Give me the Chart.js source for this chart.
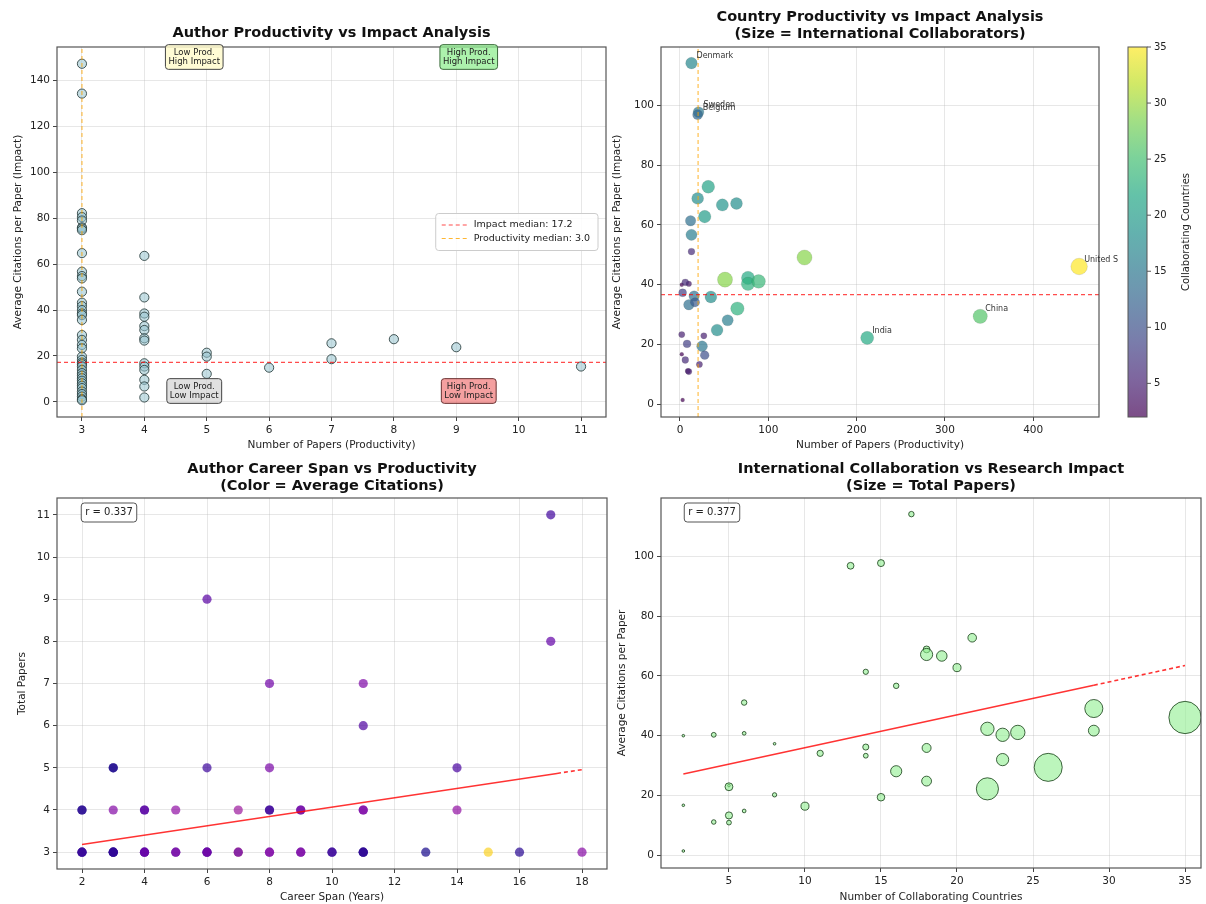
<!DOCTYPE html>
<html>
<head>
<meta charset="utf-8">
<script src="https://cdn.jsdelivr.net/npm/chart.js@4.4.1/dist/chart.umd.min.js"></script>
<style>
  body { margin: 0; background: #fff; width: 1206px; height: 904px; position: relative; overflow: hidden; }
  canvas { position: absolute; }
</style>
</head>
<body>
<canvas id="tl" width="612" height="452" style="left:0;top:0"></canvas>
<canvas id="tr" width="600" height="452" style="left:606px;top:0"></canvas>
<canvas id="bl" width="612" height="452" style="left:0;top:452px"></canvas>
<canvas id="br" width="600" height="452" style="left:606px;top:452px"></canvas>
<script>
// ---------- data ----------

// top left: authors, number of papers vs average citations per paper
const tlPaperGroups = [3, 4, 5, 6, 7, 8, 9, 11];
const tlCitations = [
  [147.3, 134.3, 82.2, 80.5, 79.0, 76.0, 75.5, 74.8, 64.8, 56.7, 54.8, 53.8, 48.0, 43.2, 41.7, 40.0, 38.5,
   37.8, 35.7, 29.1, 27.0, 24.8, 23.3, 19.7, 18.3, 17.1, 16.4, 15.4, 13.9, 12.5, 11.4, 10.3, 9.2, 8.1, 7.0,
   6.0, 4.5, 3.4, 2.3, 1.2, 0.7],
  [63.6, 45.5, 38.5, 37.1, 33.0, 31.3, 27.7, 26.7, 16.8, 15.4, 13.9, 9.6, 6.7, 1.9],
  [21.4, 19.7, 12.2],
  [14.9],
  [25.5, 18.6],
  [27.3],
  [23.8],
  [15.4]
];
const tlImpactMedian = 17.2;
const tlProdMedian = 3.0;
const tlXTicks = [3, 4, 5, 6, 7, 8, 9, 10, 11];
const tlYTicks = [0, 20, 40, 60, 80, 100, 120, 140];

// countries (top right and bottom right)
const countryPapers = [13, 21, 20, 32, 20, 64, 48, 28, 12, 13, 13, 141, 452, 77, 77, 89, 51, 2, 10, 6, 3,
  16, 10, 35, 17, 65, 340, 54, 42, 2, 27, 212, 8, 25, 2, 28, 6, 22, 9, 10, 3];
const countryCitations = [114.2, 97.8, 96.9, 72.8, 68.9, 67.2, 66.7, 62.8, 61.4, 56.7, 51.1, 49.1, 46.1,
  42.3, 40.3, 41.1, 41.7, 40.0, 40.3, 40.8, 37.3, 36.2, 33.3, 35.9, 34.1, 32.0, 29.4, 28.1, 24.8, 23.3,
  22.9, 22.2, 20.2, 19.4, 16.7, 16.4, 14.8, 13.3, 11.1, 10.9, 1.4];
const countryCollabs = [17, 15, 13, 21, 18, 18, 19, 20, 14, 16, 6, 29, 35, 22, 23, 24, 29, 2, 4, 6, 8,
  14, 14, 18, 11, 23, 26, 16, 18, 5, 5, 22, 8, 15, 2, 10, 6, 5, 4, 5, 2];
const labelIndex = [0, 2, 1, 12, 26, 31];
const labelNames = ['Denmark', 'Belgium', 'Sweden', 'United S', 'China', 'India'];
const trPapersMedian = 20.5;
const trCitMedian = 36.7;
const trXTicks = [0, 100, 200, 300, 400];
const trYTicks = [0, 20, 40, 60, 80, 100];
const cbTicks = [5, 10, 15, 20, 25, 30, 35];

// bottom left: career span vs total papers, coloured by average citations
const blSpan = [2, 2, 2, 3, 3, 3, 3, 4, 4, 4, 5, 5, 6, 6, 6, 7, 7, 8, 8, 9, 9, 10, 10, 11, 11, 11, 13, 15, 16, 18,
  2, 2, 3, 4, 4, 5, 7, 8, 8, 9, 9, 11, 11, 14,
  3, 3, 6, 8, 14, 11, 8, 11, 17, 6, 17];
const blPapers = [3, 3, 3, 3, 3, 3, 3, 3, 3, 3, 3, 3, 3, 3, 3, 3, 3, 3, 3, 3, 3, 3, 3, 3, 3, 3, 3, 3, 3, 3,
  4, 4, 4, 4, 4, 4, 4, 4, 4, 4, 4, 4, 4, 4,
  5, 5, 5, 5, 5, 6, 7, 7, 8, 9, 11];
const blCitations = [4, 9, 14, 2, 5, 8, 12, 18, 24, 30, 20, 38, 10, 22, 35, 78, 28, 30, 42, 26, 40, 6, 16, 3, 7, 11, 3, 134, 8, 42,
  3, 9, 40, 12, 28, 45, 50, 4, 18, 22, 36, 30, 40, 46,
  2, 6, 14, 36, 18, 20, 32, 38, 27, 24, 15];
const blXTicks = [2, 4, 6, 8, 10, 12, 14, 16, 18];
const blYTicks = [3, 4, 5, 6, 7, 8, 9, 10, 11];
const blFit = { slope: 0.111, intercept: 2.958, r: 0.337, dashFrom: 17.2 };

// bottom right: collaborating countries vs citations, size = papers
const brXTicks = [5, 10, 15, 20, 25, 30, 35];
const brYTicks = [0, 20, 40, 60, 80, 100];
const brFit = { slope: 1.1, intercept: 25.0, r: 0.377, dashFrom: 29 };

// ---------- helpers ----------
const FONT = '"DejaVu Sans", sans-serif';
const GRID = 'rgba(176,176,176,0.3)';
const viridis = ['#440154', '#482475', '#414487', '#355f8d', '#2a788e', '#21918c', '#22a884', '#44bf70', '#7ad151', '#bddf26', '#fde725'];
const plasma = ['#0d0887', '#41049d', '#6a00a8', '#8f0da4', '#b12a90', '#cc4778', '#e16462', '#f2844b', '#fca636', '#fcce25', '#f0f921'];

function hex(h) { return [1, 3, 5].map(i => parseInt(h.slice(i, i + 2), 16)); }
function cmap(stops, t, a) {
  t = Math.max(0, Math.min(1, t));
  const p = t * (stops.length - 1);
  const i = Math.min(Math.floor(p), stops.length - 2), f = p - i;
  const c0 = hex(stops[i]), c1 = hex(stops[i + 1]);
  const c = c0.map((v, k) => Math.round(v + (c1[k] - v) * f));
  return `rgba(${c[0]},${c[1]},${c[2]},${a})`;
}

function scale(min, max, ticks, title, isX, size, titlePad) {
  return {
    type: 'linear', min, max,
    afterBuildTicks: s => { s.ticks = ticks.map(v => ({ value: v })); },
    afterFit: s => { if (isX) s.height = size; else s.width = size; },
    grid: { color: GRID, tickColor: '#444', tickLength: 4 },
    border: { display: false },
    ticks: { font: { family: FONT, size: 10.5 }, color: '#222', padding: 3, maxRotation: 0, autoSkip: false },
    title: { display: true, text: title, font: { family: FONT, size: 10.5 }, color: '#222',
             padding: isX ? { top: 0, bottom: titlePad } : { top: titlePad, bottom: 0 } }
  };
}

function frame(chart) {
  const { ctx, chartArea: a } = chart;
  ctx.save();
  ctx.strokeStyle = '#555';
  ctx.lineWidth = 1.2;
  ctx.strokeRect(a.left, a.top, a.right - a.left, a.bottom - a.top);
  ctx.restore();
}

function title(chart, lines) {
  const { ctx, chartArea: a } = chart;
  ctx.save();
  ctx.font = `bold 14.5px ${FONT}`;
  ctx.fillStyle = '#111';
  ctx.textAlign = 'center';
  ctx.textBaseline = 'middle';
  const y0 = lines.length === 1 ? 33 : 17;
  lines.forEach((l, i) => ctx.fillText(l, (a.left + a.right) / 2, y0 + i * 17));
  ctx.restore();
}

function box(ctx, lines, cx, cy, size, fill, stroke, pad) {
  ctx.save();
  ctx.font = `${size}px ${FONT}`;
  const lh = size * 1.1;
  const w = Math.max(...lines.map(l => ctx.measureText(l).width)) + 2 * pad;
  const h = lh * lines.length + 2 * pad;
  ctx.beginPath();
  ctx.roundRect(cx - w / 2, cy - h / 2, w, h, 3);
  ctx.fillStyle = fill; ctx.fill();
  ctx.strokeStyle = stroke; ctx.lineWidth = 1; ctx.stroke();
  ctx.fillStyle = '#222';
  ctx.textAlign = 'center';
  ctx.textBaseline = 'middle';
  lines.forEach((l, i) => ctx.fillText(l, cx, cy - (lines.length - 1) * lh / 2 + i * lh));
  ctx.restore();
}

function lineSet(points, color, width, dash) {
  return { data: points, showLine: true, borderColor: color, borderWidth: width, borderDash: dash,
           pointRadius: 0, fill: false };
}

function fitSets(fit, x0, x1) {
  const f = x => fit.intercept + fit.slope * x;
  return [
    lineSet([{ x: x0, y: f(x0) }, { x: fit.dashFrom, y: f(fit.dashFrom) }], 'rgba(255,0,0,0.8)', 1.6, []),
    lineSet([{ x: fit.dashFrom, y: f(fit.dashFrom) }, { x: x1, y: f(x1) }], 'rgba(255,0,0,0.8)', 1.6, [4, 3])
  ];
}

const common = { responsive: false, animation: false, events: [],
                 plugins: { legend: { display: false }, tooltip: { enabled: false } } };

// ---------- top left ----------
const tlPoints = [];
tlPaperGroups.forEach((p, i) => tlCitations[i].forEach(c => tlPoints.push({ x: p, y: c })));
const TL = { xmin: 2.6, xmax: 11.4, ymin: -6.6, ymax: 154.6 };

new Chart(document.getElementById('tl'), {
  type: 'scatter',
  data: {
    datasets: [
      lineSet([{ x: TL.xmin, y: tlImpactMedian }, { x: TL.xmax, y: tlImpactMedian }], 'rgba(255,0,0,0.7)', 1.2, [4, 3]),
      lineSet([{ x: tlProdMedian, y: TL.ymin }, { x: tlProdMedian, y: TL.ymax }], 'rgba(255,165,0,0.7)', 1.2, [4, 3]),
      { data: tlPoints, pointRadius: 4.6, backgroundColor: 'rgba(150,195,205,0.55)',
        borderColor: 'rgba(40,60,60,0.85)', borderWidth: 1 }
    ]
  },
  options: {
    ...common,
    layout: { autoPadding: false, padding: { left: 0, right: 6, top: 47, bottom: 0 } },
    scales: {
      x: scale(TL.xmin, TL.xmax, tlXTicks, 'Number of Papers (Productivity)', true, 35, 0.5),
      y: scale(TL.ymin, TL.ymax, tlYTicks, 'Average Citations per Paper (Impact)', false, 57, 12)
    }
  },
  plugins: [{
    id: 'tlDecor',
    afterDraw(chart) {
      const { ctx, chartArea: a } = chart;
      frame(chart);
      title(chart, ['Author Productivity vs Impact Analysis']);
      const fx = f => a.left + f * (a.right - a.left);
      box(ctx, ['Low Prod.', 'High Impact'], fx(0.25), a.top + 10, 8.5, 'rgba(255,250,205,0.85)', '#444', 3);
      box(ctx, ['High Prod.', 'High Impact'], fx(0.75), a.top + 10, 8.5, 'rgba(144,238,144,0.75)', '#3a6a3a', 3);
      box(ctx, ['Low Prod.', 'Low Impact'], fx(0.25), a.bottom - 26, 8.5, 'rgba(211,211,211,0.7)', '#444', 3);
      box(ctx, ['High Prod.', 'Low Impact'], fx(0.75), a.bottom - 26, 8.5, 'rgba(240,128,128,0.75)', '#6a3030', 3);
      // legend
      ctx.save();
      ctx.font = `9.5px ${FONT}`;
      const items = [
        ['Impact median: ' + tlImpactMedian.toFixed(1), 'rgba(255,0,0,0.7)'],
        ['Productivity median: ' + tlProdMedian.toFixed(1), 'rgba(255,165,0,0.8)']
      ];
      const tw = Math.max(...items.map(i => ctx.measureText(i[0]).width));
      const w = tw + 46, h = 37;
      const x = a.right - 8 - w, y = (a.top + a.bottom) / 2 - h / 2;
      ctx.beginPath(); ctx.roundRect(x, y, w, h, 3);
      ctx.fillStyle = 'rgba(255,255,255,0.85)'; ctx.fill();
      ctx.strokeStyle = '#ccc'; ctx.lineWidth = 1; ctx.stroke();
      items.forEach((it, i) => {
        const ly = y + 11.5 + i * 13.5;
        ctx.strokeStyle = it[1]; ctx.lineWidth = 1.2; ctx.setLineDash([4, 3]);
        ctx.beginPath(); ctx.moveTo(x + 6, ly); ctx.lineTo(x + 32, ly); ctx.stroke();
        ctx.setLineDash([]);
        ctx.fillStyle = '#222'; ctx.textBaseline = 'middle'; ctx.textAlign = 'left';
        ctx.fillText(it[0], x + 38, ly);
      });
      ctx.restore();
    }
  }]
});

// ---------- top right ----------
const CB = { min: 2, max: 35 };
const trPoints = countryPapers.map((p, i) => ({ x: p, y: countryCitations[i] }));
const TR = { xmin: -21.5, xmax: 474.5, ymin: -4.3, ymax: 119.6 };

new Chart(document.getElementById('tr'), {
  type: 'scatter',
  data: {
    datasets: [
      lineSet([{ x: TR.xmin, y: trCitMedian }, { x: TR.xmax, y: trCitMedian }], 'rgba(255,0,0,0.7)', 1.2, [4, 3]),
      lineSet([{ x: trPapersMedian, y: TR.ymin }, { x: trPapersMedian, y: TR.ymax }], 'rgba(255,165,0,0.7)', 1.2, [4, 3]),
      { data: trPoints,
        pointRadius: ctx => 1.4 * Math.sqrt(countryCollabs[ctx.dataIndex]),
        backgroundColor: ctx => cmap(viridis, (countryCollabs[ctx.dataIndex] - CB.min) / (CB.max - CB.min), 0.7),
        borderColor: 'rgba(60,60,60,0.25)', borderWidth: 0.5 }
    ]
  },
  options: {
    ...common,
    layout: { autoPadding: false, padding: { left: 0, right: 107, top: 47, bottom: 0 } },
    scales: {
      x: scale(TR.xmin, TR.xmax, trXTicks, 'Number of Papers (Productivity)', true, 35, 0.5),
      y: scale(TR.ymin, TR.ymax, trYTicks, 'Average Citations per Paper (Impact)', false, 55, 5)
    }
  },
  plugins: [{
    id: 'trDecor',
    afterDraw(chart) {
      const { ctx, chartArea: a, scales } = chart;
      frame(chart);
      title(chart, ['Country Productivity vs Impact Analysis', '(Size = International Collaborators)']);
      ctx.save();
      ctx.font = `8px ${FONT}`;
      ctx.fillStyle = '#333';
      ctx.textBaseline = 'bottom';
      labelIndex.forEach((idx, k) => {
        const px = scales.x.getPixelForValue(countryPapers[idx]);
        const py = scales.y.getPixelForValue(countryCitations[idx]);
        ctx.fillText(labelNames[k], px + 5, py - 3);
      });
      // colour bar
      const x0 = 522, w = 19, y0 = a.top, y1 = a.bottom;
      const g = ctx.createLinearGradient(0, y1, 0, y0);
      for (let i = 0; i <= 20; i++) g.addColorStop(i / 20, cmap(viridis, i / 20, 0.7));
      ctx.fillStyle = g;
      ctx.fillRect(x0, y0, w, y1 - y0);
      ctx.strokeStyle = '#555'; ctx.lineWidth = 1;
      ctx.strokeRect(x0, y0, w, y1 - y0);
      ctx.font = `10px ${FONT}`;
      ctx.fillStyle = '#222';
      ctx.textBaseline = 'middle';
      ctx.textAlign = 'left';
      cbTicks.forEach(v => {
        const y = y1 - (v - CB.min) / (CB.max - CB.min) * (y1 - y0);
        ctx.beginPath(); ctx.moveTo(x0 + w, y); ctx.lineTo(x0 + w + 4, y); ctx.stroke();
        ctx.fillText(String(v), x0 + w + 7, y);
      });
      ctx.translate(580, (y0 + y1) / 2);
      ctx.rotate(-Math.PI / 2);
      ctx.textAlign = 'center';
      ctx.fillText('Collaborating Countries', 0, 0);
      ctx.restore();
    }
  }]
});

// ---------- bottom left ----------
const citMin = Math.min(...tlCitations.flat()), citMax = Math.max(...tlCitations.flat());
const blPoints = blSpan.map((s, i) => ({ x: s, y: blPapers[i] }));

new Chart(document.getElementById('bl'), {
  type: 'scatter',
  data: {
    datasets: [
      ...fitSets(blFit, Math.min(...blSpan), Math.max(...blSpan)),
      { data: blPoints, pointRadius: 4.6, borderWidth: 0,
        backgroundColor: ctx => cmap(plasma, (blCitations[ctx.dataIndex] - citMin) / (citMax - citMin), 0.7) }
    ]
  },
  options: {
    ...common,
    layout: { autoPadding: false, padding: { left: 0, right: 5, top: 46, bottom: 0 } },
    scales: {
      x: scale(1.2, 18.8, blXTicks, 'Career Span (Years)', true, 35, 0.5),
      y: scale(2.6, 11.4, blYTicks, 'Total Papers', false, 57, 15.5)
    }
  },
  plugins: [{
    id: 'blDecor',
    afterDraw(chart) {
      const { ctx, chartArea: a } = chart;
      frame(chart);
      title(chart, ['Author Career Span vs Productivity', '(Color = Average Citations)']);
      box(ctx, ['r = ' + blFit.r.toFixed(3)], a.left + 52, a.top + 14.5, 10, 'rgba(255,255,255,0.9)', '#555', 4);
    }
  }]
});

// ---------- bottom right ----------
const brPoints = countryCollabs.map((c, i) => ({ x: c, y: countryCitations[i] }));

new Chart(document.getElementById('br'), {
  type: 'scatter',
  data: {
    datasets: [
      ...fitSets(brFit, Math.min(...countryCollabs), Math.max(...countryCollabs)),
      { data: brPoints,
        pointRadius: ctx => Math.max(1.3, 0.76 * Math.sqrt(countryPapers[ctx.dataIndex])),
        backgroundColor: 'rgba(144,238,144,0.6)', borderColor: 'rgba(10,50,10,0.75)', borderWidth: 1 }
    ]
  },
  options: {
    ...common,
    layout: { autoPadding: false, padding: { left: 0, right: 5, top: 46, bottom: 0 } },
    scales: {
      x: scale(0.53, 36.05, brXTicks, 'Number of Collaborating Countries', true, 36, 0.5),
      y: scale(-4.3, 119.6, brYTicks, 'Average Citations per Paper', false, 55, 9.5)
    }
  },
  plugins: [{
    id: 'brDecor',
    afterDraw(chart) {
      const { ctx, chartArea: a } = chart;
      frame(chart);
      title(chart, ['International Collaboration vs Research Impact', '(Size = Total Papers)']);
      box(ctx, ['r = ' + brFit.r.toFixed(3)], a.left + 51, a.top + 14.5, 10, 'rgba(255,255,255,0.9)', '#555', 4);
    }
  }]
});
</script>
</body>
</html>
